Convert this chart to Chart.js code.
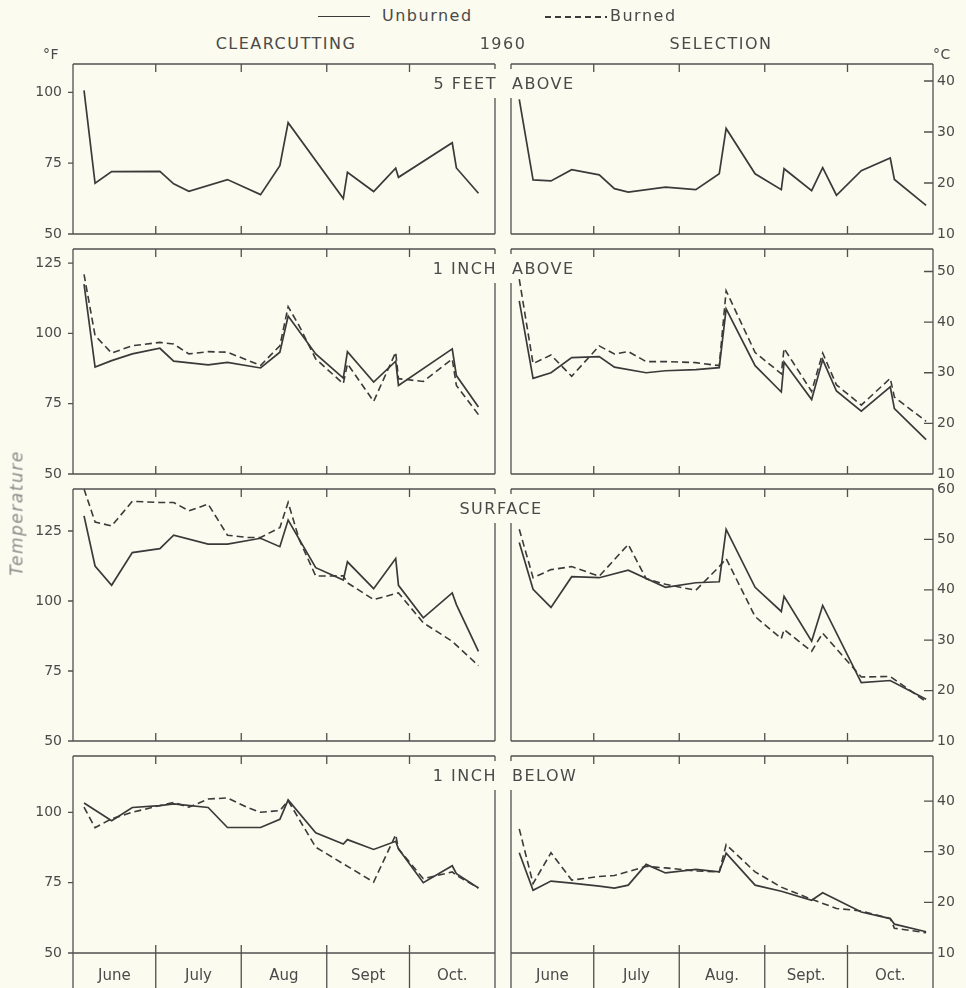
<!DOCTYPE html>
<html>
<head>
<meta charset="utf-8">
<title>Temperature 1960 - clearcutting and selection</title>
<script src="https://cdn.jsdelivr.net/npm/chart.js@4.4.1/dist/chart.umd.min.js"></script>
<style>
  body { margin: 0; width: 966px; height: 988px; overflow: hidden; position: relative;
         background: #fbfbef; font-family: "DejaVu Sans", sans-serif; color: #4a4a4a; }
  .t { position: absolute; white-space: nowrap; line-height: 1; font-size: 16px; letter-spacing: 1.5px; }
  .small { font-size: 14px; letter-spacing: 0.5px; }
  .ylab { font-size: 17px; font-style: italic; color: #8a8a8a; letter-spacing: 1.5px; }
  .chartbox { position: absolute; }
  .key { position: absolute; height: 0; }
</style>
</head>
<body>
<script>
// ---- data (days counted from June 1; left panels in degrees F, right panels in degrees C) ----
const monthEdges = [0, 30, 61, 92, 122, 153];
const monthMids = [15, 45.5, 76.5, 107, 137.5];
const monthsClear = ['June', 'July', 'Aug', 'Sept', 'Oct.'];
const monthsSel = ['June', 'July', 'Aug.', 'Sept.', 'Oct.'];

const clearDays = [4, 8, 14, 21.5, 31.5, 36.5, 42, 49, 56, 63, 68, 75, 78, 82, 88, 98, 99.5, 109, 117, 118, 127, 137.5, 139, 147];
const selDays = [3, 8, 14.5, 22, 32, 37.5, 42.5, 49, 56, 67, 75.5, 78, 88.5, 98, 99, 109, 113, 118, 127, 137.5, 139, 150.5];

// clearcutting (F)
const clear5ftUnburned = [100.7, 67.9, 72.0, null, 72.1, 67.7, 65.1, null, 69.2, null, 63.9, 74.1, 89.3, null, null, 62.5, 71.8, 65.0, 73.2, 70.0, null, 82.2, 73.3, 64.4];
const clear1inUnburned = [117.5, 88.0, 90.3, 92.7, 94.7, 90.1, null, 88.8, 89.7, null, 87.7, 93.3, 106.2, null, 92.7, 84.1, 93.5, 82.7, 90.1, 81.5, null, 94.5, 85.0, 73.8];
const clear1inBurned = [121.0, 99.2, 93.0, 95.6, 96.8, 96.2, 92.7, 93.5, 93.3, null, 88.6, 95.6, 109.5, 102.7, 90.9, 82.1, 89.2, 75.8, 93.3, 83.9, 82.9, 90.9, 81.5, 71.1];
const clearSurfUnburned = [130.4, 112.5, 105.6, 117.3, 118.7, 123.5, null, 120.3, 120.3, null, 122.4, 119.4, 128.9, null, 111.9, 107.5, 114.0, 104.4, 115.2, 105.6, 94.0, 102.9, 98.7, 82.0];
const clearSurfBurned = [140, 128.2, 126.8, 135.6, 135.2, 135.2, 132.2, 134.6, 123.5, 122.7, 122.7, 126.2, 135.2, 122.0, 108.9, 109.0, 106.5, 100.5, null, 102.9, 92.2, 85.6, null, 76.9];
const clearBelowUnburned = [103.3, null, 97.0, 101.7, 102.4, 103.0, null, 101.7, 94.6, null, 94.6, 97.5, 104.4, null, 92.7, 88.7, 90.3, 86.8, 89.7, 87.0, 75.0, 81.0, 78.2, 73.1];
const clearBelowBurned = [101.8, 94.5, 97.7, 100.0, 102.4, 103.5, 101.8, 104.7, 105.1, 101.8, 100.0, 100.6, 104.1, null, 87.6, null, null, 75.2, 92.0, 87.0, 76.4, 78.8, 77.6, 73.1];

// selection (C)
const sel5ftUnburned = [36.4, 20.6, 20.4, 22.6, 21.6, 18.9, 18.2, null, 19.2, 18.7, 21.8, 30.7, 21.8, 18.7, 22.8, 18.5, 23.0, 17.6, 22.4, 24.9, 20.7, 15.6];
const sel1inUnburned = [44.2, 28.9, 30.0, 33.0, 33.2, 31.1, null, 30.0, 30.4, 30.6, 31.0, 42.6, 31.4, 26.2, 32.1, 24.7, 32.6, 26.4, 22.4, 27.2, 22.9, 16.8];
const sel1inBurned = [48.5, 31.8, 33.5, 29.3, 35.3, 33.7, 34.2, 32.2, 32.2, 32.0, 31.4, 46.2, 34.0, 29.8, 34.8, 26.3, 33.9, 27.6, 23.6, 28.9, 25.2, 20.4];
const selSurfUnburned = [49.4, 40.1, 36.5, 42.6, 42.4, null, 43.9, null, 40.5, 41.4, 41.6, 52.0, 40.5, 35.7, 38.7, 29.8, 36.9, null, 21.6, 22.0, null, 18.3];
const selSurfBurned = [52.0, 42.4, 44.0, 44.6, 42.7, null, 49.0, 42.2, 41.1, 39.9, 44.6, 46.2, 34.7, 30.3, 32.1, 27.8, 31.4, null, 22.7, 22.8, null, 17.8];
const selBelowUnburned = [29.8, 22.4, 24.2, 23.8, 23.2, 22.8, 23.4, 27.5, 25.8, 26.5, 26.0, 29.7, 23.4, 22.2, null, 20.4, 21.9, null, 18.1, 16.8, 15.7, 14.2];
const selBelowBurned = [34.5, 23.7, 29.8, 24.4, 25.1, 25.3, null, 27.1, 26.8, 26.2, 26.0, 31.4, 26.0, 23.0, null, 20.6, null, 18.8, 18.3, 16.8, 14.9, 14.0];

// axis ranges and tick labels per panel row
const panelNames = [['5 FEET', 'ABOVE'], ['1 INCH', 'ABOVE'], ['SURFACE'], ['1 INCH', 'BELOW']];
const fMax = [110, 130, 140, 120];
const fTicks = [[50, 75, 100], [50, 75, 100, 125], [50, 75, 100, 125], [50, 75, 100]];
const cTicks = [[10, 20, 30, 40], [10, 20, 30, 40, 50], [10, 20, 30, 40, 50, 60], [10, 20, 30, 40]];
const clearSeries = [[clear5ftUnburned, null], [clear1inUnburned, clear1inBurned], [clearSurfUnburned, clearSurfBurned], [clearBelowUnburned, clearBelowBurned]];
const selSeries = [[sel5ftUnburned, null], [sel1inUnburned, sel1inBurned], [selSurfUnburned, selSurfBurned], [selBelowUnburned, selBelowBurned]];

// ---- layout ----
const ROW_TOP = [64, 249, 489, 756];
const ROW_BOTTOM = [234, 474, 741, 953];
const PAGE_H = 988;
const INK = '#3a3a3a';
const FRAME = '#505050';

const framePlugin = {
    id: 'frame',
    afterDraw(chart, args, opts) {
        const ctx = chart.ctx;
        const a = chart.chartArea;
        const xs = chart.scales.x, ys = chart.scales.y;
        const left = opts.side === 'clear';
        const outer = left ? a.left : a.right;
        const inner = left ? a.right : a.left;
        ctx.save();
        ctx.strokeStyle = FRAME;
        ctx.lineWidth = 1.3;
        ctx.beginPath();
        ctx.moveTo(a.left, a.top); ctx.lineTo(a.right, a.top);
        ctx.moveTo(a.left, a.bottom); ctx.lineTo(a.right, a.bottom);
        ctx.moveTo(outer, a.top); ctx.lineTo(outer, a.bottom);
        // inner side is broken where the panel name sits
        ctx.moveTo(inner, a.top); ctx.lineTo(inner, a.top + 5);
        ctx.moveTo(inner, a.top + 34); ctx.lineTo(inner, a.bottom);
        monthEdges.slice(1, -1).forEach(d => {
            const px = xs.getPixelForValue(d);
            ctx.moveTo(px, a.top); ctx.lineTo(px, a.top + 8);
            ctx.moveTo(px, a.bottom); ctx.lineTo(px, a.bottom - 8);
        });
        if (opts.last) {
            monthEdges.forEach(d => {
                const px = xs.getPixelForValue(d);
                ctx.moveTo(px, a.bottom); ctx.lineTo(px, chart.height);
            });
        }
        ys.ticks.forEach(t => {
            const py = ys.getPixelForValue(t.value);
            if (left) { ctx.moveTo(a.left - 5, py); ctx.lineTo(a.left, py); }
            else { ctx.moveTo(a.right - 9, py); ctx.lineTo(a.right, py); }
        });
        ctx.stroke();
        ctx.restore();
    }
};

function makeChart(side, row) {
    const isClear = side === 'clear';
    const last = row === ROW_TOP.length - 1;
    const top = ROW_TOP[row], bottom = ROW_BOTTOM[row];
    const padTop = 10;
    const padBot = last ? PAGE_H - bottom : 10;
    const w = isClear ? 500 : 461;
    const h = bottom - top + padTop + padBot;

    const box = document.createElement('div');
    box.className = 'chartbox';
    box.style.left = (isClear ? 0 : 505) + 'px';
    box.style.top = (top - padTop) + 'px';
    box.style.width = w + 'px';
    box.style.height = h + 'px';
    const cv = document.createElement('canvas');
    cv.width = w; cv.height = h;
    box.appendChild(cv);
    document.body.appendChild(box);

    const days = isClear ? clearDays : selDays;
    const pair = isClear ? clearSeries[row] : selSeries[row];
    const toPts = vals => days.map((d, i) => ({x: d, y: vals[i]})).filter(p => p.y !== null);
    const datasets = [{
        label: 'Unburned', data: toPts(pair[0]),
        borderColor: INK, borderWidth: 1.7, pointRadius: 0, tension: 0
    }];
    if (pair[1]) {
        datasets.push({
            label: 'Burned', data: toPts(pair[1]),
            borderColor: INK, borderWidth: 1.6, borderDash: [7, 4], pointRadius: 0, tension: 0
        });
    }

    const months = isClear ? monthsClear : monthsSel;
    const yMin = isClear ? 50 : 10;
    const yMax = isClear ? fMax[row] : (fMax[row] - 32) / 1.8;
    const yTicks = isClear ? fTicks[row] : cTicks[row];

    return new Chart(cv, {
        type: 'line',
        data: {datasets: datasets},
        options: {
            responsive: false,
            animation: false,
            devicePixelRatio: 1,
            events: [],
            layout: {padding: {top: padTop, bottom: 0, left: isClear ? 0 : 6, right: isClear ? 5 : 0}},
            plugins: {
                legend: {display: false},
                tooltip: {enabled: false},
                frame: {side: side, last: last}
            },
            scales: {
                x: {
                    type: 'linear', min: 0, max: 153,
                    grid: {display: false, drawTicks: false},
                    border: {display: false},
                    ticks: {
                        display: last, autoSkip: false, maxRotation: 0, padding: 14,
                        color: '#4a4a4a', font: {family: 'DejaVu Sans', size: 15},
                        callback: (v, i) => months[i]
                    },
                    afterBuildTicks: s => { s.ticks = monthMids.map(v => ({value: v})); },
                    afterFit: s => {
                        s.height = padBot;
                        s.paddingLeft = 0; s.paddingRight = 0;
                    }
                },
                y: {
                    position: isClear ? 'left' : 'right',
                    min: yMin, max: yMax,
                    grid: {display: false, drawTicks: false},
                    border: {display: false},
                    ticks: {
                        padding: isClear ? 11 : 4,
                        color: '#4a4a4a', font: {family: 'DejaVu Sans', size: 14}
                    },
                    afterBuildTicks: s => { s.ticks = yTicks.map(v => ({value: v})); },
                    afterFit: s => {
                        s.width = isClear ? 73 : 33;
                        s.paddingTop = 0; s.paddingBottom = 0;
                    }
                }
            }
        },
        plugins: [framePlugin]
    });
}

function addText(txt, x, y, align, cls) {
    const d = document.createElement('div');
    d.className = 't ' + (cls || '');
    d.textContent = txt;
    d.style.left = x + 'px';
    d.style.top = y + 'px';
    const tx = align === 'right' ? '-100%' : (align === 'center' ? '-50%' : '0');
    d.style.transform = 'translate(' + tx + ', -50%)';
    document.body.appendChild(d);
    return d;
}

for (let r = 0; r < ROW_TOP.length; r++) {
    makeChart('clear', r);
    makeChart('sel', r);
    const cy = ROW_TOP[r] + 19.5;
    const name = panelNames[r];
    if (name.length === 2) {
        addText(name[0], 497, cy, 'right');
        addText(name[1], 512, cy, 'left');
    } else {
        addText(name[0], 501, cy, 'center');
    }
}

// headers and legend
addText('CLEARCUTTING', 286, 44, 'center');
addText('1960', 503, 44, 'center');
addText('SELECTION', 721, 44, 'center');
addText('°F', 51, 54, 'center', 'small');
addText('°C', 942, 54, 'center', 'small');
addText('Unburned', 382, 16, 'left');
addText('Burned', 610, 16, 'left');

const solidKey = document.createElement('div');
solidKey.className = 'key';
solidKey.style.cssText = 'left:318px;top:16px;width:52px;border-top:1.6px solid ' + INK;
document.body.appendChild(solidKey);
const dashKey = document.createElement('div');
dashKey.className = 'key';
dashKey.style.cssText = 'left:545px;top:16px;width:62px;height:1.6px;background:repeating-linear-gradient(to right,' + INK + ' 0 6px, transparent 6px 10px)';
document.body.appendChild(dashKey);

const yTitle = addText('Temperature', 17, 513, 'center', 'ylab');
yTitle.style.transform = 'translate(-50%, -50%) rotate(-90deg)';
</script>
</body>
</html>
